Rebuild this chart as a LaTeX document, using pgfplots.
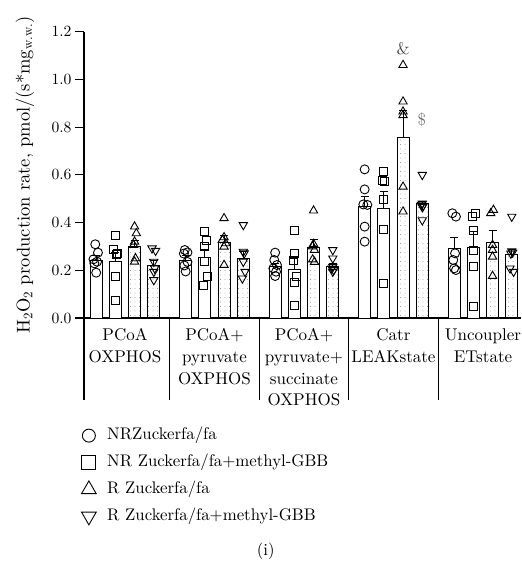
\documentclass[border=0pt]{standalone}
\usepackage{fontspec}
\setmainfont{lmroman10-regular.otf}
\usepackage{pgfplots}
\pgfplotsset{compat=1.18}
\usepackage{pgfplotstable}
\usetikzlibrary{patterns.meta}
\newcommand{\fst}{\fontsize{15.6}{18}\selectfont}
\newcommand{\fsc}{\fontsize{17}{21.7}\selectfont}
\newcommand{\fsl}{\fontsize{16.8}{20}\selectfont}
\newcommand{\fsy}{\fontsize{18.5}{22}\selectfont}

% bars: x position, mean, upward error
\pgfplotstableread{
x y e
-0.322 0.243 0.017
0.678 0.243 0.017
1.678 0.215 0.015
2.678 0.466 0.045
3.678 0.292 0.046
}\barNR
\pgfplotstableread{
x y e
-0.107 0.235 0.040
0.893 0.254 0.035
1.893 0.205 0.045
2.893 0.460 0.069
3.893 0.295 0.067
}\barNRm
\pgfplotstableread{
x y e
0.107 0.300 0.025
1.107 0.316 0.028
2.107 0.296 0.033
3.107 0.757 0.113
4.107 0.317 0.048
}\barR
\pgfplotstableread{
x y e
0.322 0.219 0.020
1.322 0.250 0.030
2.322 0.215 0.013
3.322 0.478 0.012
4.322 0.268 0.020
}\barRm

\pgfplotstableread{
x y
-0.332 0.309
-0.302 0.274
-0.352 0.246
-0.312 0.236
-0.342 0.229
-0.322 0.190
0.668 0.285
0.698 0.275
0.658 0.270
0.698 0.235
0.663 0.220
0.678 0.195
1.678 0.274
1.668 0.243
1.698 0.222
1.658 0.208
1.688 0.194
1.678 0.176
2.678 0.623
2.678 0.539
2.663 0.476
2.708 0.474
2.678 0.383
2.678 0.320
3.658 0.439
3.698 0.425
3.688 0.271
3.668 0.243
3.678 0.208
3.698 0.201
}\ptNR
\pgfplotstableread{
x y
-0.107 0.345
-0.127 0.288
-0.087 0.271
-0.097 0.267
-0.107 0.173
-0.107 0.073
0.893 0.362
0.913 0.327
0.893 0.299
0.893 0.236
0.923 0.173
0.873 0.138
1.893 0.369
1.893 0.271
1.883 0.243
1.913 0.176
1.893 0.148
1.893 0.054
2.893 0.613
2.873 0.578
2.903 0.571
2.893 0.495
2.893 0.372
2.893 0.145
3.913 0.439
3.883 0.427
3.893 0.366
3.893 0.285
3.893 0.215
3.893 0.050
}\ptNRm
\pgfplotstableread{
x y
0.107 0.383
0.127 0.355
0.107 0.320
0.097 0.306
0.117 0.250
0.107 0.236
1.107 0.418
1.107 0.338
1.087 0.327
1.127 0.313
1.107 0.299
1.107 0.222
2.107 0.450
2.107 0.310
2.097 0.300
2.117 0.285
2.097 0.245
2.117 0.235
3.107 1.060
3.107 0.907
3.107 0.865
3.107 0.850
3.107 0.550
3.107 0.446
4.117 0.453
4.087 0.439
4.107 0.306
4.107 0.285
4.107 0.257
4.107 0.176
}\ptR
\pgfplotstableread{
x y
0.302 0.292
0.342 0.282
0.322 0.236
0.332 0.208
0.322 0.194
0.322 0.159
1.322 0.390
1.322 0.278
1.332 0.271
1.322 0.236
1.342 0.194
1.312 0.166
2.322 0.285
2.322 0.250
2.322 0.215
2.312 0.208
2.332 0.201
2.322 0.194
3.322 0.600
3.322 0.480
3.312 0.475
3.332 0.470
3.322 0.465
3.322 0.410
4.322 0.425
4.322 0.280
4.332 0.275
4.312 0.270
4.302 0.208
4.342 0.194
}\ptRm

\begin{document}
\begin{tikzpicture}[x=1pt,y=1pt]
\begin{axis}[
  at={(84pt,245pt)}, anchor=south west,
  scale only axis, width=437pt, height=286.3pt,
  xmin=-0.458, xmax=4.425, ymin=0, ymax=1.2,
  axis lines*=left,
  axis line style={line width=1.1pt},
  clip=false,
  ytick={0,0.2,0.4,0.6,0.8,1.0,1.2},
  yticklabel style={/pgf/number format/fixed, /pgf/number format/fixed zerofill, /pgf/number format/precision=1, font=\fst},
  /pgf/number format/assume math mode=true,
  tick align=outside, major tick length=9pt,
  ytick style={line width=1.1pt, black},
  xtick={0,1,2,3,4},
  xticklabels={{PCoA\\OXPHOS},{PCoA+\\pyruvate\\OXPHOS},{PCoA+\\pyruvate+\\succinate\\OXPHOS},{Catr\\LEAKstate},{Uncoupler\\ETstate}},
  xtick style={draw=none},
  x tick label style={align=center, font=\fsc, anchor=north, yshift=2pt},
  ylabel={H\textsubscript{2}O\textsubscript{2} production rate, pmol/(s*mg\textsubscript{w.w.})},
  ylabel style={font=\fsy, at={(axis description cs:-0.135,0.5)}, anchor=center},
  legend style={at={(axis description cs:-0.013,-0.367)}, anchor=north west, draw=none, fill=none, font=\fsl,
    nodes={inner sep=2pt, text height=12.5pt, text depth=4.2pt}, row sep=6.2pt, column sep=9pt},
  legend cell align=left,
]
\addplot[ybar, bar width=12pt, bar shift=0pt, draw=black, line width=1pt, fill=white, forget plot,
  error bars/.cd, y dir=plus, y explicit, error bar style={line width=1pt, black},
  error mark options={rotate=90, mark size=4pt, line width=1pt, black}]
  table[x=x, y=y, y error=e] {\barNR};
\addplot[ybar, bar width=12pt, bar shift=0pt, draw=black, line width=1pt, fill=white, forget plot,
  error bars/.cd, y dir=plus, y explicit, error bar style={line width=1pt, black},
  error mark options={rotate=90, mark size=4pt, line width=1pt, black}]
  table[x=x, y=y, y error=e] {\barNRm};
\addplot[ybar, bar width=12pt, bar shift=0pt, draw=black, line width=1pt, pattern={Dots[distance=4.5pt, radius=0.45pt]}, pattern color=black!60, forget plot,
  error bars/.cd, y dir=plus, y explicit, error bar style={line width=1pt, black},
  error mark options={rotate=90, mark size=4pt, line width=1pt, black}]
  table[x=x, y=y, y error=e] {\barR};
\addplot[ybar, bar width=12pt, bar shift=0pt, draw=black, line width=1pt, pattern={Dots[distance=4.5pt, radius=0.45pt]}, pattern color=black!60, forget plot,
  error bars/.cd, y dir=plus, y explicit, error bar style={line width=1pt, black},
  error mark options={rotate=90, mark size=4pt, line width=1pt, black}]
  table[x=x, y=y, y error=e] {\barRm};

\addplot[only marks, mark=o, mark size=4.5pt, mark options={line width=0.9pt, black}, legend image post style={mark size=6.5pt}]
  table[x=x, y=y] {\ptNR};
\addlegendentry{NRZuckerfa/fa}
\addplot[only marks, mark=square, mark size=4pt, mark options={line width=0.9pt, black}, legend image post style={mark size=7pt}]
  table[x=x, y=y] {\ptNRm};
\addlegendentry{NR Zuckerfa/fa+methyl-GBB}
\addplot[only marks, mark=triangle, mark size=4.8pt, mark options={line width=0.9pt, black}, legend image post style={mark size=8.5pt}]
  table[x=x, y=y] {\ptR};
\addlegendentry{R Zuckerfa/fa}
\addplot[only marks, mark=triangle, mark size=4.8pt, mark options={line width=0.9pt, black, rotate=180}, legend image post style={mark size=8.5pt}]
  table[x=x, y=y] {\ptRm};
\addlegendentry{R Zuckerfa/fa+methyl-GBB}

\node[font=\fsl, text=black!75] at (axis cs:3.107,1.13) {\&};
\node[font=\fsl, text=black!55] at (axis cs:3.316,0.83) {\$};

\draw[line width=1.1pt] (rel axis cs:0,0) -- ++(0pt,-82pt);
\draw[line width=1.1pt] (axis cs:0.5,0) -- ++(0pt,-82pt);
\draw[line width=1.1pt] (axis cs:1.5,0) -- ++(0pt,-82pt);
\draw[line width=1.1pt] (axis cs:2.5,0) -- ++(0pt,-82pt);
\draw[line width=1.1pt] (axis cs:3.5,0) -- ++(0pt,-82pt);
\end{axis}
\node[font=\fsl] at (265.7pt,11.3pt) {(i)};
\pgfresetboundingbox
\path[use as bounding box] (0pt,0pt) rectangle (522pt,563pt);
\end{tikzpicture}
\end{document}
